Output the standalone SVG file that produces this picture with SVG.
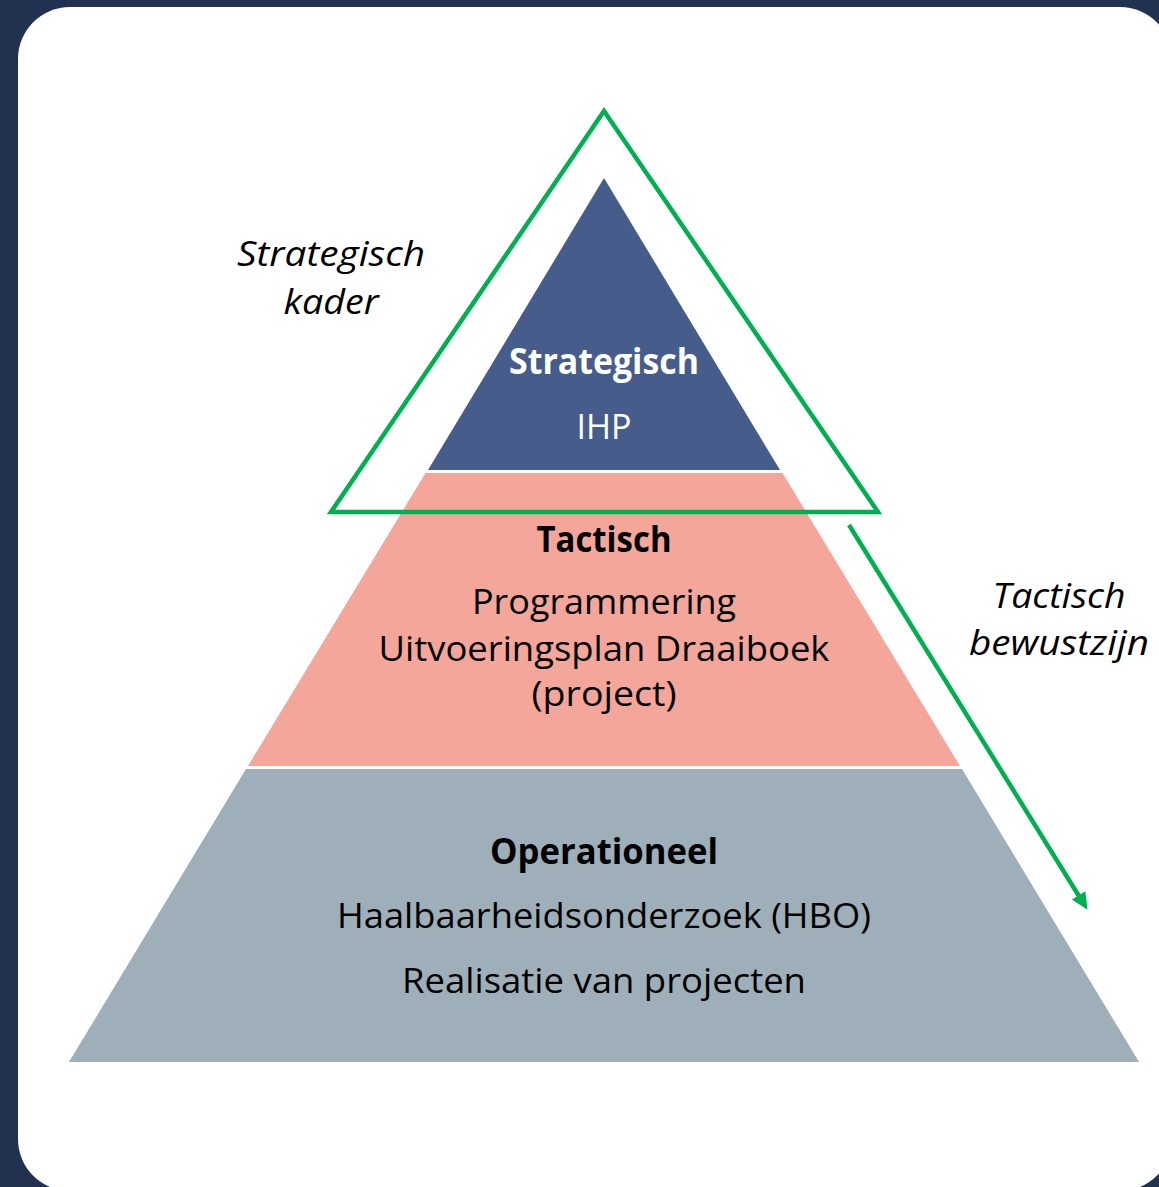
<svg xmlns="http://www.w3.org/2000/svg" width="1159" height="1187" viewBox="0 0 1159 1187">
<style>
text{font-family:"Open Sans","Noto Sans","Liberation Sans",sans-serif;font-size:35px;text-anchor:middle;fill:#000}
.b{font-weight:bold}
.i{font-style:italic}
.w{fill:#fff}
.green{fill:none;stroke:#00B050;stroke-width:4.5}
</style>
<defs>
<marker id="ah" markerUnits="userSpaceOnUse" markerWidth="20" markerHeight="18" refX="6" refY="8" orient="auto">
<path d="M0,0 L17,8 L0,16 z" fill="#00B050"/>
</marker>
</defs>
<rect x="0" y="0" width="1159" height="1187" fill="#223150"/>
<rect x="18" y="7" width="1154" height="1184" rx="52" ry="52" fill="#fff"/>
<g id="operationeel">
<polygon points="246,769 962,769 1139,1062 69,1062" fill="#9EAFB9"/>
<text class="b" x="604" y="864" textLength="228" lengthAdjust="spacingAndGlyphs">Operationeel</text>
<text x="604" y="928" textLength="534" lengthAdjust="spacingAndGlyphs">Haalbaarheidsonderzoek (HBO)</text>
<text x="604" y="993" textLength="404" lengthAdjust="spacingAndGlyphs">Realisatie van projecten</text>
</g>
<g id="tactisch">
<polygon points="425.5,473 782.5,473 960,766 248,766" fill="#F4A69A"/>
<text class="b" x="604" y="552" textLength="135" lengthAdjust="spacingAndGlyphs">Tactisch</text>
<text x="604" y="614" textLength="264" lengthAdjust="spacingAndGlyphs">Programmering</text>
<text x="604" y="661" textLength="451" lengthAdjust="spacingAndGlyphs">Uitvoeringsplan Draaiboek</text>
<text x="604" y="706" textLength="145" lengthAdjust="spacingAndGlyphs">(project)</text>
</g>
<g id="strategisch">
<polygon points="604,178 780,470 428,470" fill="#465C8B"/>
<text class="b w" x="604" y="374" textLength="190" lengthAdjust="spacingAndGlyphs">Strategisch</text>
<text class="w" x="604" y="439" textLength="55" lengthAdjust="spacingAndGlyphs">IHP</text>
</g>
<g id="strategisch-kader">
<polygon class="green" points="604,111 878,512 331,512"/>
<text class="i" x="331" y="266" textLength="188" lengthAdjust="spacingAndGlyphs">Strategisch</text>
<text class="i" x="331" y="314" textLength="95" lengthAdjust="spacingAndGlyphs">kader</text>
</g>
<g id="tactisch-bewustzijn">
<text class="i" x="1059" y="608" textLength="133" lengthAdjust="spacingAndGlyphs">Tactisch</text>
<text class="i" x="1059" y="655" textLength="180" lengthAdjust="spacingAndGlyphs">bewustzijn</text>
</g>
<g id="connectors">
<line class="green" x1="849" y1="525" x2="1081.7" y2="900.5" marker-end="url(#ah)"/>
</g>
</svg>
